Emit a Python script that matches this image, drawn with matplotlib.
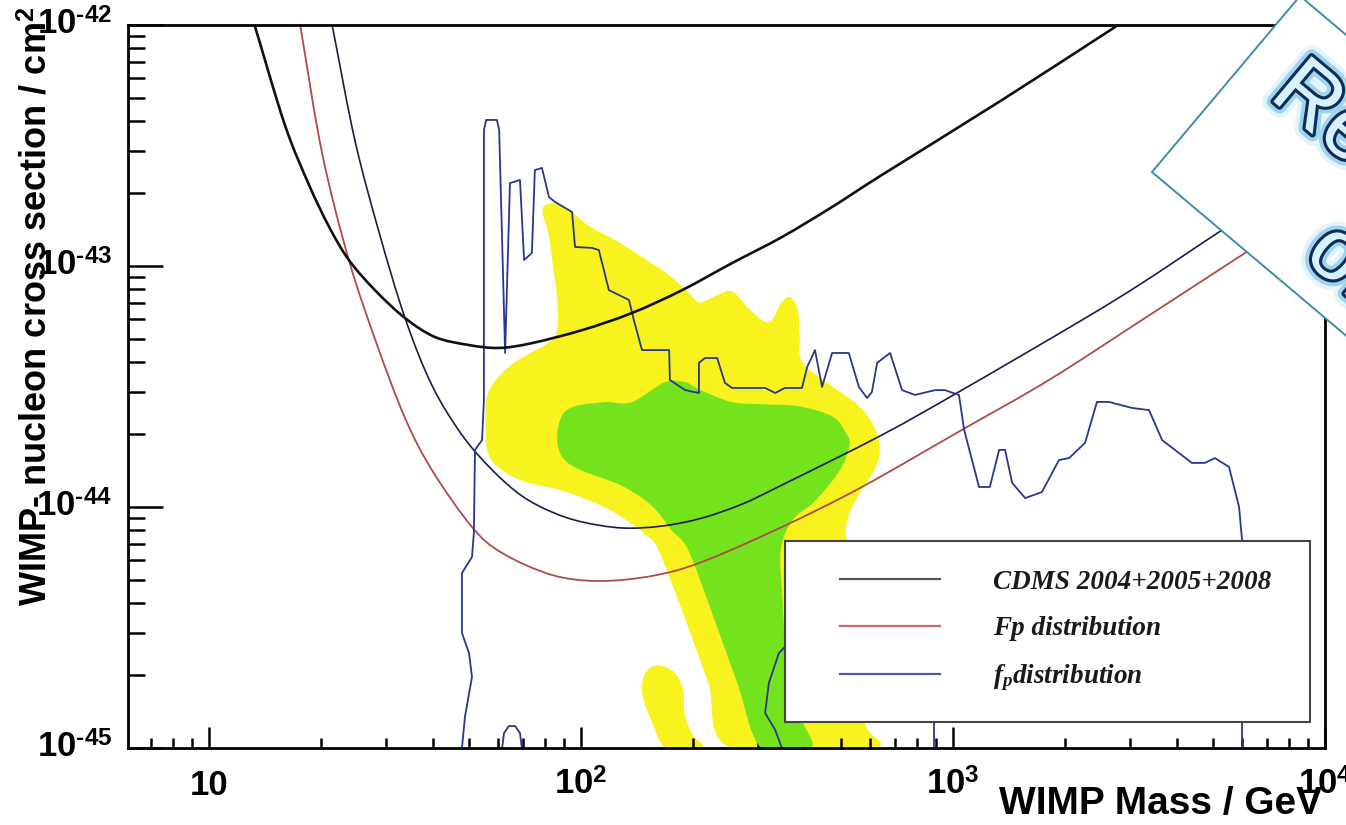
import numpy as np
import matplotlib
matplotlib.use("Agg")
import matplotlib.pyplot as plt
from matplotlib.lines import Line2D
from matplotlib.patches import Polygon, PathPatch
from matplotlib.path import Path
from matplotlib.legend_handler import HandlerLine2D
from matplotlib.font_manager import FontProperties
from matplotlib.ticker import LogLocator, NullFormatter
import matplotlib.patheffects as pe

plt.rcParams['font.family'] = ['Liberation Sans', 'DejaVu Sans']
plt.rcParams['mathtext.fontset'] = 'custom'
plt.rcParams['mathtext.rm'] = 'Liberation Sans:bold'
plt.rcParams['mathtext.bf'] = 'Liberation Sans:bold'
plt.rcParams['mathtext.it'] = 'Liberation Serif:bold:italic'

# ---------------------------------------------------------------------------
# Data: WIMP mass as log10(m / GeV), cross section as log10(sigma / cm^2)
# ---------------------------------------------------------------------------
# CDMS 2004+2005+2008 upper limit
cdms_lgm = [1.115, 1.124, 1.204, 1.269, 1.323, 1.376, 1.446, 1.527, 1.608, 1.699,
            1.780, 1.868, 2.003, 2.137, 2.272, 2.406, 2.540, 2.675, 2.809, 3.132, 3.444]
cdms_lgs = [-41.97, -42.008, -42.415, -42.664, -42.838, -42.975, -43.100, -43.216, -43.295, -43.328,
            -43.340, -43.320, -43.266, -43.195, -43.100, -42.988, -42.880, -42.755, -42.622, -42.311, -42.0]

# Fp distribution limit
fp_lgm = [1.245, 1.304, 1.376, 1.452, 1.527, 1.599, 1.707, 1.788, 1.922, 2.048,
          2.191, 2.325, 2.540, 2.755, 3.024, 3.258, 3.508, 3.785, 4.005]
fp_lgs = [-42.0, -42.531, -42.975, -43.328, -43.631, -43.846, -44.083, -44.191, -44.282, -44.307,
          -44.286, -44.228, -44.083, -43.917, -43.680, -43.473, -43.224, -42.946, -42.726]

# smooth limit drawn in dark navy
nav_lgm = [1.331, 1.392, 1.457, 1.527, 1.599, 1.680, 1.761, 1.841, 1.922, 2.003,
           2.110, 2.218, 2.325, 2.433, 2.540, 2.809, 3.024, 3.347, 3.508, 3.723, 4.005]
nav_lgs = [-42.0, -42.477, -42.859, -43.216, -43.494, -43.701, -43.846, -43.954, -44.021, -44.062,
           -44.087, -44.079, -44.046, -43.988, -43.909, -43.701, -43.515, -43.224, -43.071, -42.851, -42.568]

# f_p distribution (jagged contour), main branch
fpd_lgm = [1.680, 1.688, 1.707, 1.699, 1.680, 1.680, 1.707, 1.712, 1.715, 1.734,
           1.739, 1.739, 1.745, 1.774, 1.780, 1.796, 1.809, 1.836, 1.847, 1.868,
           1.876, 1.895, 1.914, 1.930, 1.976, 1.984, 2.030, 2.048, 2.075, 2.129,
           2.142, 2.164, 2.237, 2.239, 2.280, 2.317, 2.317, 2.333, 2.366, 2.387,
           2.406, 2.495, 2.522, 2.548, 2.594, 2.608, 2.629, 2.648, 2.675, 2.720,
           2.747, 2.769, 2.782, 2.796, 2.831, 2.863, 2.898, 2.952, 2.978, 3.016,
           3.030, 3.070, 3.099, 3.124, 3.140, 3.159, 3.194, 3.239, 3.285, 3.312,
           3.355, 3.387, 3.419, 3.481, 3.527, 3.562, 3.642, 3.677, 3.704, 3.742,
           3.769, 3.777, 3.777]
fpd_lgs = [-45.0, -44.871, -44.705, -44.606, -44.523, -44.274, -44.207, -44.108, -43.763, -43.722,
           -43.556, -42.436, -42.394, -42.394, -42.436, -43.361, -42.656, -42.643, -42.975, -42.946,
           -42.602, -42.593, -42.714, -42.734, -42.776, -42.921, -42.925, -42.934, -43.100, -43.141,
           -43.224, -43.349, -43.349, -43.473, -43.515, -43.527, -43.402, -43.382, -43.382, -43.485,
           -43.506, -43.506, -43.527, -43.506, -43.506, -43.419, -43.349, -43.502, -43.361, -43.361,
           -43.502, -43.548, -43.523, -43.402, -43.361, -43.515, -43.535, -43.515, -43.515, -43.535,
           -43.680, -43.917, -43.917, -43.763, -43.763, -43.900, -43.963, -43.938, -43.805, -43.797,
           -43.734, -43.564, -43.564, -43.589, -43.598, -43.722, -43.817, -43.817, -43.797, -43.834,
           -44.0, -44.137, -45.0]
# f_p distribution, low-lying branch and small island
fpd_low_lgm = [2.540, 2.522, 2.495, 2.505, 2.532, 2.548, 2.728, 2.949, 2.949]
fpd_low_lgs = [-45.0, -44.925, -44.855, -44.730, -44.606, -44.581, -44.801, -44.863, -45.0]
fpd_isl_lgm = [1.788, 1.793, 1.806, 1.823, 1.836, 1.841]
fpd_isl_lgs = [-45.0, -44.938, -44.909, -44.909, -44.938, -45.0]

# 2 sigma (yellow) and 1 sigma (green) regions
yel_lgm = [1.909, 1.941, 1.976, 2.022, 2.102, 2.172, 2.226, 2.280, 2.317, 2.360,
           2.406, 2.452, 2.505, 2.540, 2.562, 2.581, 2.586, 2.594, 2.675, 2.747,
           2.790, 2.801, 2.782, 2.747, 2.720, 2.710, 2.723, 2.742, 2.761, 2.782,
           2.406, 2.344, 2.280, 2.210, 2.177, 2.124, 2.056, 1.949, 1.841, 1.774,
           1.750, 1.745, 1.750, 1.780, 1.823, 1.868, 1.914, 1.938, 1.938, 1.927,
           1.914, 1.898]
yel_lgs = [-42.747, -42.747, -42.780, -42.838, -42.905, -42.975, -43.029, -43.100, -43.154, -43.129,
           -43.108, -43.183, -43.237, -43.154, -43.133, -43.183, -43.295, -43.402, -43.502, -43.585,
           -43.680, -43.776, -43.859, -43.942, -44.025, -44.108, -44.220, -44.552, -44.892, -45.0,
           -45.0, -44.730, -44.456, -44.178, -44.116, -44.054, -43.992, -43.929, -43.888, -43.826,
           -43.763, -43.639, -43.535, -43.461, -43.402, -43.361, -43.320, -43.266, -43.141, -43.004,
           -42.863, -42.776]
yel_isl_lgm = [2.231, 2.191, 2.167, 2.172, 2.204, 2.250, 2.272, 2.277, 2.298, 2.325]
yel_isl_lgs = [-45.0, -44.884, -44.780, -44.697, -44.660, -44.689, -44.759, -44.863, -44.946, -45.0]
grn_lgm = [1.949, 1.984, 2.065, 2.137, 2.226, 2.280, 2.317, 2.406, 2.495, 2.586,
           2.675, 2.710, 2.720, 2.694, 2.629, 2.567, 2.535, 2.540, 2.548, 2.581,
           2.594, 2.616, 2.487, 2.422, 2.358, 2.290, 2.245, 2.191, 2.110, 2.003,
           1.954, 1.938]
grn_lgs = [-43.627, -43.585, -43.568, -43.568, -43.485, -43.485, -43.515, -43.568, -43.577, -43.585,
           -43.627, -43.693, -43.743, -43.846, -43.971, -44.054, -44.178, -44.386, -44.552, -44.801,
           -44.892, -45.0, -45.0, -44.730, -44.456, -44.178, -44.095, -43.992, -43.909, -43.846,
           -43.797, -43.722]

x_ticks = [10, 100, 1000, 10000]
x_tick_labels = ["10", "$10^{2}$", "$10^{3}$", "$10^{4}$"]
y_ticks = [1e-45, 1e-44, 1e-43, 1e-42]
y_tick_labels = [r"$10^{\text{-}45}$", r"$10^{\text{-}44}$", r"$10^{\text{-}43}$", r"$10^{\text{-}42}$"]
legend_labels = ["CDMS 2004+2005+2008", "Fp distribution", "$f_{p}$distribution"]


def pw(v):
    return np.power(10.0, np.asarray(v, dtype=float))


def smooth_path(lgx, lgy, closed=False):
    """Catmull-Rom curve through the log-space points, as a cubic Bezier path."""
    p = np.column_stack([lgx, lgy]).astype(float)
    if closed:
        q = np.vstack([p[-1], p, p[0], p[1]])
        nseg = len(p)
    else:
        q = np.vstack([2 * p[0] - p[1], p, 2 * p[-1] - p[-2]])
        nseg = len(p) - 1
    verts = [q[1]]
    codes = [Path.MOVETO]
    for i in range(nseg):
        p0, p1, p2, p3 = q[i], q[i + 1], q[i + 2], q[i + 3]
        verts += [p1 + (p2 - p0) / 6.0, p2 - (p3 - p1) / 6.0, p2]
        codes += [Path.CURVE4] * 3
    if closed:
        verts.append(q[1])
        codes.append(Path.CLOSEPOLY)
    return Path(np.power(10.0, np.array(verts)), codes)


# ---------------------------------------------------------------------------
W, H = 1346, 825
fig = plt.figure(figsize=(W / 100, H / 100), dpi=100)
fig.patch.set_facecolor('white')
ax = fig.add_axes([128 / W, 1 - 748 / H, 1197 / W, 723 / H])
ax.set_xscale('log')
ax.set_yscale('log')
ax.set_xlim(10 ** (4 - 1197 / 372), 1e4)
ax.set_ylim(1e-45, 1e-42)

YELLOW = '#f8f21e'
GREEN = '#74e21c'
for lgx, lgy, col, z in [(yel_lgm, yel_lgs, YELLOW, 1), (yel_isl_lgm, yel_isl_lgs, YELLOW, 1),
                         (grn_lgm, grn_lgs, GREEN, 2)]:
    ax.add_patch(PathPatch(smooth_path(lgx, lgy, closed=True), facecolor=col,
                           edgecolor=col, lw=1.0, zorder=z))

for lgx, lgy, col, lw, z in [(nav_lgm, nav_lgs, '#1c1c4c', 1.2, 3),
                             (fp_lgm, fp_lgs, '#b04a4a', 1.3, 3),
                             (cdms_lgm, cdms_lgs, '#111111', 1.9, 4)]:
    ax.add_patch(PathPatch(smooth_path(lgx, lgy), facecolor='none', edgecolor=col,
                           lw=lw, zorder=z, capstyle='round'))

for lgx, lgy in [(fpd_lgm, fpd_lgs), (fpd_low_lgm, fpd_low_lgs), (fpd_isl_lgm, fpd_isl_lgs)]:
    ax.plot(pw(lgx), pw(lgy), color='#2b3592', lw=1.3, zorder=3)

# ROOT-like frame and ticks
for s in ax.spines.values():
    s.set_linewidth(2.0)
    s.set_zorder(6)
ax.xaxis.set_major_locator(LogLocator(base=10, numticks=10))
ax.xaxis.set_minor_locator(LogLocator(base=10, subs=np.arange(2, 10), numticks=40))
ax.yaxis.set_major_locator(LogLocator(base=10, numticks=10))
ax.yaxis.set_minor_locator(LogLocator(base=10, subs=np.arange(2, 10), numticks=40))
ax.xaxis.set_minor_formatter(NullFormatter())
ax.yaxis.set_minor_formatter(NullFormatter())
ax.tick_params(which='both', direction='in', top=False, right=False,
               labelbottom=False, labelleft=False, width=1.8, color='black')
ax.tick_params(axis='x', which='major', length=15)
ax.tick_params(axis='x', which='minor', length=7)
ax.tick_params(axis='y', which='major', length=25)
ax.tick_params(axis='y', which='minor', length=12)

for xv, lab in zip(x_ticks, x_tick_labels):
    ax.text(xv, (748 - 795) / 723, lab, transform=ax.get_xaxis_transform(),
            ha='center', va='baseline', fontsize=25, fontweight='bold', clip_on=False)
for yv, lab in zip(y_ticks, y_tick_labels):
    ax.text((112 - 128) / 1197, yv, lab, transform=ax.get_yaxis_transform(),
            ha='right', va='center', fontsize=25, fontweight='bold', clip_on=False)

fig.text(1322 / W, 1 - 814 / H, "WIMP Mass / GeV", ha='right', va='baseline',
         fontsize=28, fontweight='bold')
fig.text(37 / W, 1 - 306 / H, "WIMP- nucleon cross section / cm$^{2}$", rotation=90,
         ha='center', va='center', fontsize=26, fontweight='bold')

# Legend
handles = [Line2D([], [], color='#555555', lw=1.6),
           Line2D([], [], color='#c46a6a', lw=1.6),
           Line2D([], [], color='#4b58aa', lw=1.6)]
leg = ax.legend(handles, legend_labels, loc='upper left',
                bbox_to_anchor=((785 - 128) / 1197, (748 - 722) / 723, 525 / 1197, 181 / 723),
                mode='expand', borderaxespad=0,
                prop=FontProperties(family='Liberation Serif', weight='bold', style='italic', size=19.5),
                handlelength=4.65, handletextpad=1.96, labelspacing=0.79, borderpad=1.06,
                frameon=True, fancybox=False, framealpha=1,
                handler_map={Line2D: HandlerLine2D(xpad=0.97)})
leg.get_frame().set_edgecolor('#444444')
leg.get_frame().set_linewidth(1.5)
leg.set_zorder(5)
for t in leg.get_texts():
    t.set_color('#1a1a1a')


# Overlaid title card in the upper right corner
def fxy(px, py):
    return (px / W, 1 - py / H)


card = Polygon([fxy(1152, 172), fxy(1300, -4), fxy(1606, 254), fxy(1458, 430)], closed=True,
               transform=fig.transFigure, facecolor='white', edgecolor='#3b8ea8', lw=1.4, zorder=10)
fig.add_artist(card)
glow = [pe.Stroke(linewidth=16, foreground='#b5e2f3', alpha=0.35),
        pe.Stroke(linewidth=10, foreground='#66bde0', alpha=0.55),
        pe.Stroke(linewidth=4.5, foreground='#0e2d5c'),
        pe.Normal()]
for (px, py), word in zip([(1268, 97), (1302, 258)], ["Results", "of"]):
    x, y = fxy(px, py)
    fig.text(x, y, word, rotation=-40, rotation_mode='anchor', ha='left', va='baseline',
             fontsize=62, color='#d8f2fc', family='Liberation Sans', zorder=11, path_effects=glow)

fig.savefig("out.png", dpi=100, facecolor='white')
